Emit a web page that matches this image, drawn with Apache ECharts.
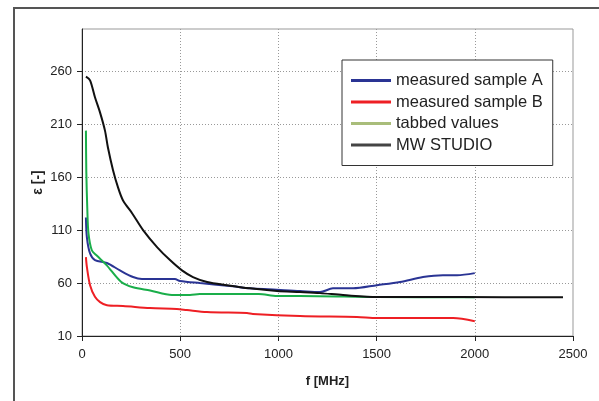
<!DOCTYPE html>
<html><head><meta charset="utf-8">
<script src="https://cdn.jsdelivr.net/npm/echarts@6/dist/echarts.min.js"></script>
<style>html,body{margin:0;padding:0;background:#fff}#c{width:599px;height:401px}</style>
</head><body><div id="c"></div>
<script>
const seriesNames = ['measured sample A', 'measured sample B', 'tabbed values', 'MW STUDIO'];
const xTicks = [0, 500, 1000, 1500, 2000, 2500];
const yTicks = [10, 60, 110, 160, 210, 260];
const sampleA = [[20,122],[25,103],[41,88],[66,81.7],[127,79],[193,72],[260,65.7],[305,63.8],[473,63.8],[499,62],[600,60],[768,57],[855,55],[1110,52.5],[1212,51.5],[1278,55],[1380,55],[1502,58],[1619,61],[1736,65.7],[1838,67.5],[1910,67.5],[2000,69.4]];
const sampleB = [[20,84.5],[25,75],[41,58],[66,47],[92,42],[127,39],[209,38.3],[346,36.4],[483,35.5],[534,34.5],[636,32.6],[840,31.7],[870,30.8],[1110,28.9],[1400,28],[1502,27],[1890,27],[2000,24]];
const tabbed = [[20,204],[22,165],[27,130],[33,107],[50,91],[75,86],[125,77],[200,61],[260,56],[347,53],[458,48.7],[550,48.7],[600,49.6],[900,49.6],[993,47.7],[1110,47.7],[1500,46.8],[2000,46.5]];
const mwStudio = [[20,255],[41,251.5],[66,235.5],[92,221],[117,204],[132,188],[158,166.6],[183,150.6],[209,138],[255,126],[311,110],[382,94],[448,81.7],[509,72],[565,65.7],[637,61],[738,58],[855,55],[993,52.5],[1110,51.5],[1212,50.5],[1329,48.7],[1502,46.8],[1925,46.8],[2449,46.5]];

const lineColors = ['#2a3494', '#ee1f24', '#1aae4a', '#111111'];
const legendColors = ['#2a3494', '#ee1f24', '#a9bd7a', '#444444'];
const dataSets = [sampleA, sampleB, tabbed, mwStudio];

const chart = echarts.init(document.getElementById('c'), null, {renderer: 'canvas'});
chart.setOption({
  animation: false,
  backgroundColor: '#fff',
  textStyle: {fontFamily: 'Liberation Sans, Arial, sans-serif'},
  graphic: [{type: 'rect', shape: {x: 14, y: 8, width: 620, height: 420}, style: {fill: 'none', stroke: '#555', lineWidth: 2}, z: -1}],
  grid: {left: 82, right: 26, top: 29, bottom: 65, show: true, borderColor: '#999', borderWidth: 1},
  legend: {
    orient: 'vertical', left: 342, top: 60,
    backgroundColor: '#fff', borderColor: '#333', borderWidth: 1,
    padding: [12, 10, 12, 9], itemGap: 4.5, itemWidth: 40, itemHeight: 16,
    textStyle: {fontSize: 16.5, color: '#222', fontFamily: 'Liberation Sans, Arial, sans-serif'},
    data: seriesNames.map((n, i) => ({name: n, icon: 'path://M0,0 L40,0 L40,3 L0,3 Z', itemStyle: {color: legendColors[i]}}))
  },
  xAxis: {
    type: 'value', min: 0, max: 2500, interval: 500,
    name: 'f [MHz]', nameLocation: 'middle', nameGap: 39,
    nameTextStyle: {fontSize: 13, fontWeight: 'bold', color: '#222'},
    axisLine: {lineStyle: {color: '#222'}},
    axisTick: {show: true, length: 5, lineStyle: {color: '#222'}},
    axisLabel: {fontSize: 13, color: '#222', margin: 12, formatter: v => xTicks.includes(v) ? String(v) : ''},
    splitLine: {show: true, showMinLine: false, showMaxLine: false, lineStyle: {type: [1, 2], color: '#999'}}
  },
  yAxis: {
    type: 'value', min: 10, max: 300, interval: 50,
    name: 'ε [-]', nameLocation: 'middle', nameGap: 37, nameMoveOverlap: false,
    nameTextStyle: {fontSize: 14, fontWeight: 'bold', color: '#222'},
    axisLine: {show: true, lineStyle: {color: '#222'}},
    axisTick: {show: true, length: 5, lineStyle: {color: '#222'}},
    axisLabel: {fontSize: 13, color: '#222', margin: 10, showMaxLabel: false, formatter: v => yTicks.includes(v) ? String(v) : ''},
    splitLine: {show: true, showMinLine: false, showMaxLine: false, lineStyle: {type: [1, 2], color: '#999'}}
  },
  series: seriesNames.map((n, i) => ({
    name: n, type: 'line', data: dataSets[i], showSymbol: false, symbol: 'none',
    smooth: 0.3, lineStyle: {width: 2, color: lineColors[i]}, itemStyle: {color: lineColors[i]},
    z: i === 3 ? 5 : 3
  }))
});
</script></body></html>
